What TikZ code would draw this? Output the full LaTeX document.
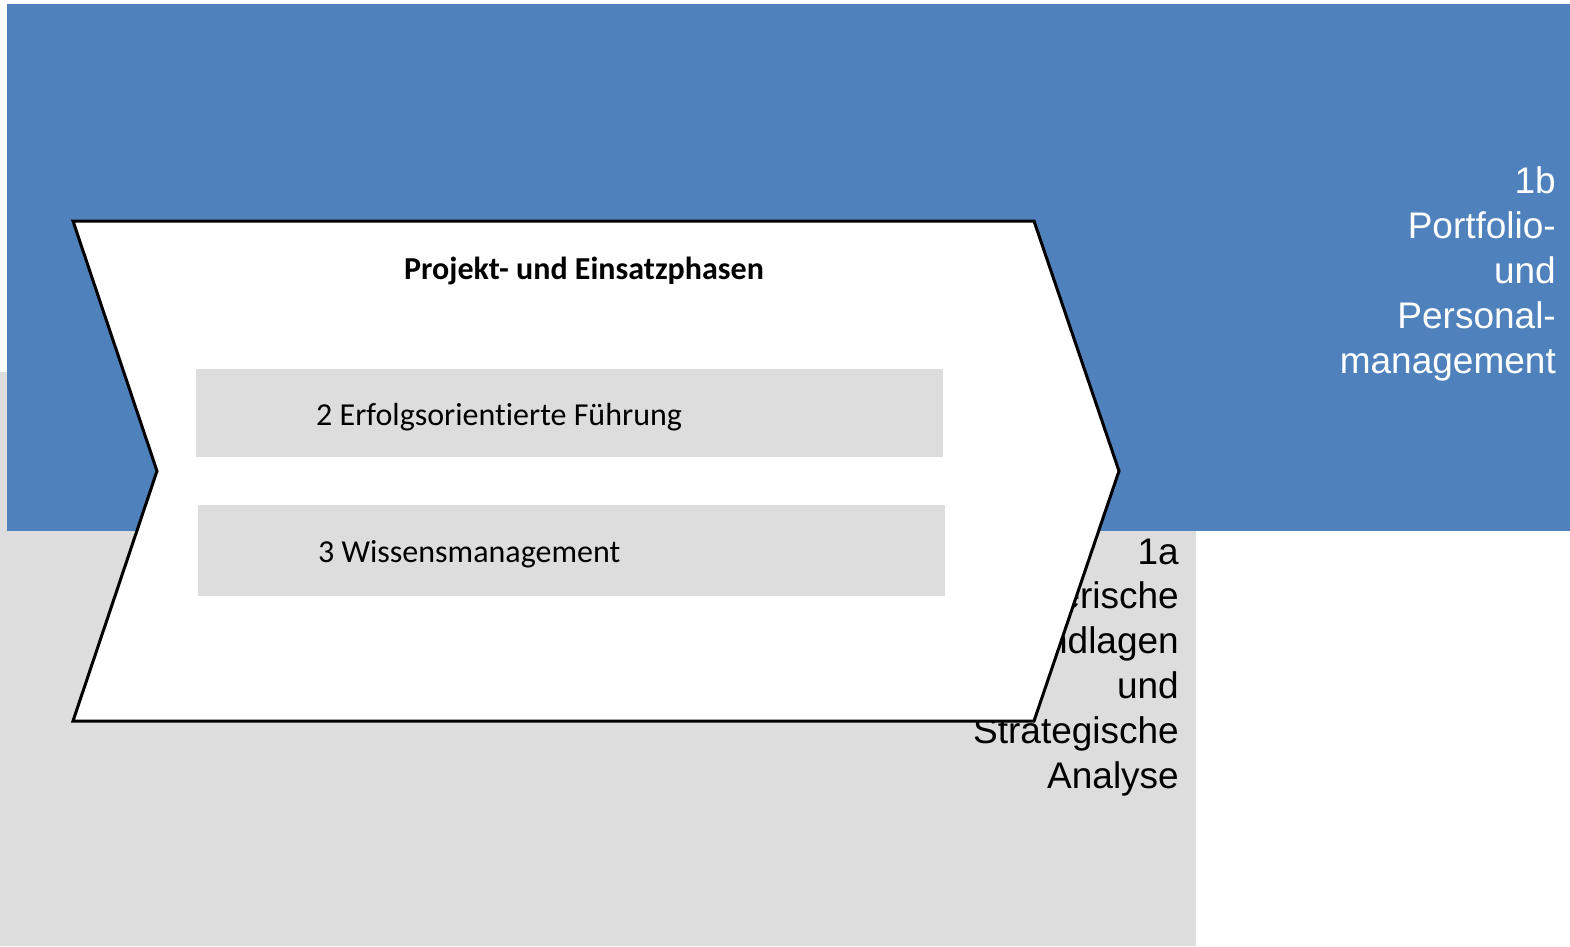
\documentclass[tikz,border=0pt]{standalone}
\usepackage{fontspec}
\setmainfont{Carlito}[Ligatures=CommonOff]
\newfontfamily\arialfont{Liberation Sans}
\usetikzlibrary{positioning}
\definecolor{panelblue}{RGB}{79, 129, 189}
\definecolor{panelgray}{RGB}{221, 221, 221}

\begin{document}
\begin{tikzpicture}[
        x=1pt, y=-1pt,
        panel/.style={draw=none, anchor=north west, inner sep=0pt},
        phasebox/.style={fill=panelgray, anchor=north west, inner sep=0pt, minimum width=747pt},
        phasetext/.style={anchor=base west, inner sep=0pt, font=\fontsize{32}{38}\selectfont},
        sidetext/.style={anchor=base east, inner sep=0pt, align=right, font=\arialfont\fontsize{37}{44.8}\selectfont},
        chevron/.style={draw=black, fill=white, line width=3pt}
      ]
        \useasboundingbox (0,0) rectangle (1570,946);
        % background panels
        \node[panel, fill=panelgray, minimum width=1196pt, minimum height=574pt] (analyse) at (0,372) {};
        \node[panel, fill=panelblue, minimum width=1563pt, minimum height=527pt] (portfolio) at (7,4) {};
        \node[sidetext] (analysetext) at (1179,788) {1a\\Unternehmerische\\Grundlagen\\und\\Strategische\\Analyse};
        \node[sidetext, text=white] (portfoliotext) at (1556,373) {1b\\Portfolio-\\und\\Personal-\\management};
        % chevron
        \draw[chevron] (73,221) -- (1034,221) -- (1119,471) -- (1034,721) -- (73,721) -- (157,471) -- cycle;
        \node[anchor=base, inner sep=0pt, font=\bfseries\fontsize{32}{38}\selectfont] (title) at (584,279) {Projekt- und Einsatzphasen};
        \node[phasebox, minimum height=88pt] (fuehrung) at (196,369) {};
        \node[phasebox, minimum height=91pt] (wissen) at (198,505) {};
        \node[phasetext] (fuehrungtext) at (316,425) {2 Erfolgsorientierte Führung};
        \node[phasetext] (wissentext) at (318,562) {3 Wissensmanagement};
      \end{tikzpicture}
\end{document}
